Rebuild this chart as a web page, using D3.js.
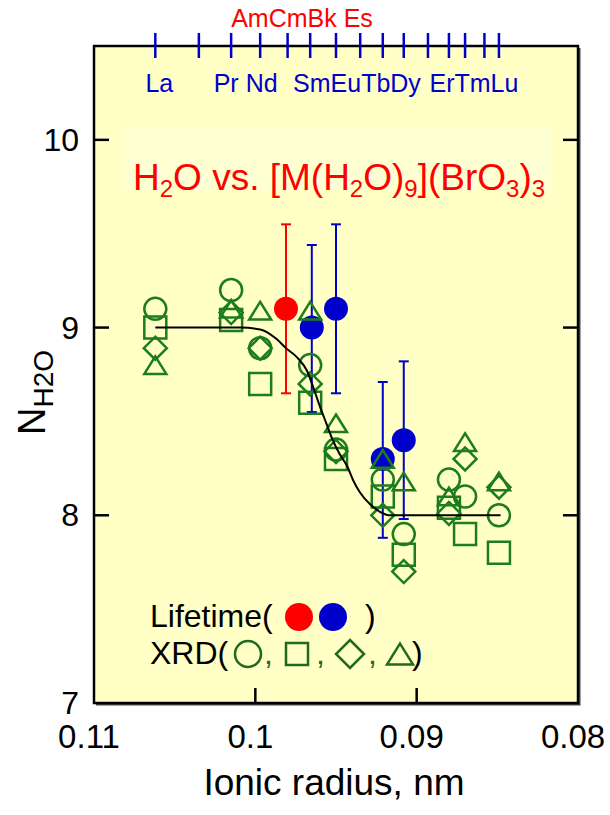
<!DOCTYPE html>
<html>
<head>
<meta charset="utf-8">
<script src="https://cdn.jsdelivr.net/npm/d3@7"></script>
<style>
  body { margin: 0; background: #fff; }
  svg text { font-family: "Liberation Sans", Arial, sans-serif; }
</style>
</head>
<body>
<div id="chart"></div>
<script>
// lanthanide tick marks on the top axis, ionic radius in nm
const elements = ["La", "Ce", "Pr", "Nd", "Pm", "Sm", "Eu", "Gd", "Tb", "Dy", "Ho", "Er", "Tm", "Yb", "Lu"];
const radii = [0.1062, 0.1035, 0.1015, 0.0997, 0.0980, 0.0966, 0.0950, 0.0935, 0.0921, 0.0908, 0.0893, 0.0880, 0.0870, 0.0858, 0.0849];
// labels printed under the ticks, grouped like in the original
const topLabelGroups = [["La"], ["Pr", "Nd"], ["Sm", "Eu", "Tb", "Dy"], ["Er", "Tm", "Lu"]];
const actinideLabel = "AmCmBk Es";

// XRD hydration numbers, one value per element
const xrdElements = ["La", "Pr", "Nd", "Sm", "Eu", "Tb", "Dy", "Er", "Tm", "Lu"];
const xrdCircle   = [9.10, 9.20, 8.89, 8.80, 8.35, 8.19, 7.90, 8.19, 8.10, 8.00];
const xrdSquare   = [9.00, 9.04, 8.70, 8.60, 8.30, 8.10, 7.79, 8.04, 7.90, 7.80];
const xrdDiamond  = [8.89, 9.08, 8.89, 8.70, 8.34, 8.00, 7.70, 8.01, 8.30, 8.15];
const xrdTriangle = [8.80, 9.10, 9.09, 9.09, 8.49, 8.30, 8.18, 8.10, 8.39, 8.18];

// lifetime measurements (Cm is the actinide point)
const lifeMetal  = ["Cm", "Sm", "Eu", "Tb", "Dy"];
const lifeRadius = [0.0981, 0.0965, 0.0950, 0.0921, 0.0908];
const lifeN      = [9.10, 9.00, 9.10, 8.30, 8.40];
const lifeLow    = [8.65, 8.55, 8.65, 7.88, 7.98];
const lifeHigh   = [9.55, 9.44, 9.55, 8.71, 8.82];

// guide curve
const fitRadius = [0.1062, 0.1009, 0.0997, 0.0987, 0.0981, 0.0974, 0.0968, 0.0964, 0.0960, 0.0956, 0.0952, 0.0948, 0.0943, 0.0939, 0.0935, 0.0929, 0.0923, 0.0916, 0.0848];
const fitN      = [9.00, 9.00, 8.99, 8.94, 8.89, 8.84, 8.77, 8.68, 8.58, 8.49, 8.40, 8.33, 8.26, 8.18, 8.12, 8.06, 8.02, 8.00, 8.00];

const xTicks = [0.11, 0.1, 0.09, 0.08];
const yTicks = [7, 8, 9, 10];

const WIDTH = 610, HEIGHT = 815;
const plot = { left: 94, right: 578, top: 46, bottom: 703 };

const RED = "#ff0000", BLUE = "#0000cc", GREEN = "#1d7d1d", LEGEND_GREEN = "#1f6a1f";

const x = d3.scaleLinear().domain([0.11, 0.08]).range([plot.left, plot.right]);
const y = d3.scaleLinear().domain([7, 10.5]).range([plot.bottom, plot.top]);
const radiusOf = name => radii[elements.indexOf(name)];

const svg = d3.select("#chart").append("svg")
  .attr("width", WIDTH)
  .attr("height", HEIGHT);

// plot background + lighter title box
svg.append("rect")
  .attr("x", plot.left).attr("y", plot.top)
  .attr("width", plot.right - plot.left).attr("height", plot.bottom - plot.top)
  .attr("fill", "#ffffc6");
svg.append("rect")
  .attr("x", 125).attr("y", 127).attr("width", 427).attr("height", 62)
  .attr("fill", "#ffffd4");

// marker paths
function shape(type, s) {
  if (type === "circle") return d3.arc()({ innerRadius: 0, outerRadius: s, startAngle: 0, endAngle: 2 * Math.PI });
  if (type === "square") return `M${-s},${-s}H${s}V${s}H${-s}Z`;
  if (type === "diamond") return `M0,${-s}L${s},0L0,${s}L${-s},0Z`;
  // triangle, centred on its bounding box
  const h = s * 0.8;
  return `M0,${-h}L${s},${h}L${-s},${h}Z`;
}

// lifetime error bars and filled circles
const life = svg.append("g");
lifeMetal.forEach((m, i) => {
  const col = m === "Cm" ? RED : BLUE;
  const cx = x(lifeRadius[i]);
  life.append("line")
    .attr("x1", cx).attr("x2", cx)
    .attr("y1", y(lifeLow[i])).attr("y2", y(lifeHigh[i]))
    .attr("stroke", col).attr("stroke-width", 2);
  [lifeLow[i], lifeHigh[i]].forEach(v => {
    life.append("line")
      .attr("x1", cx - 5).attr("x2", cx + 5)
      .attr("y1", y(v)).attr("y2", y(v))
      .attr("stroke", col).attr("stroke-width", 2);
  });
  life.append("circle")
    .attr("cx", cx).attr("cy", y(lifeN[i])).attr("r", 12)
    .attr("fill", col);
});

// XRD markers
const xrdSeries = [
  { type: "circle", values: xrdCircle, size: 11 },
  { type: "square", values: xrdSquare, size: 11 },
  { type: "diamond", values: xrdDiamond, size: 11.5 },
  { type: "triangle", values: xrdTriangle, size: 11 }
];
xrdSeries.forEach(s => {
  svg.append("g").selectAll("path")
    .data(s.values)
    .join("path")
    .attr("transform", (d, i) => `translate(${x(radiusOf(xrdElements[i]))},${y(d)})`)
    .attr("d", shape(s.type, s.size))
    .attr("fill", "none")
    .attr("stroke", GREEN)
    .attr("stroke-width", 2.5);
});

// guide curve
svg.append("path")
  .datum(fitRadius.map((r, i) => [r, fitN[i]]))
  .attr("d", d3.line().x(d => x(d[0])).y(d => y(d[1])).curve(d3.curveMonotoneX))
  .attr("fill", "none")
  .attr("stroke", "#000")
  .attr("stroke-width", 2);

// frame with a slight shadow on right/bottom
svg.append("path")
  .attr("d", `M${plot.right + 1.5},${plot.top + 2}V${plot.bottom + 1.5}H${plot.left + 2}`)
  .attr("fill", "none").attr("stroke", "#444").attr("stroke-width", 2);
svg.append("rect")
  .attr("x", plot.left).attr("y", plot.top)
  .attr("width", plot.right - plot.left).attr("height", plot.bottom - plot.top)
  .attr("fill", "none").attr("stroke", "#000").attr("stroke-width", 2.5);

// inner ticks on left/right/bottom
const TICK = 15;
yTicks.slice(1).forEach(v => {
  svg.append("line").attr("x1", plot.left).attr("x2", plot.left + TICK)
    .attr("y1", y(v)).attr("y2", y(v)).attr("stroke", "#000").attr("stroke-width", 2.5);
  svg.append("line").attr("x1", plot.right - TICK).attr("x2", plot.right)
    .attr("y1", y(v)).attr("y2", y(v)).attr("stroke", "#000").attr("stroke-width", 2.5);
});
xTicks.slice(1, -1).forEach(v => {
  svg.append("line").attr("x1", x(v)).attr("x2", x(v))
    .attr("y1", plot.bottom - TICK).attr("y2", plot.bottom)
    .attr("stroke", "#000").attr("stroke-width", 2.5);
});

// tick labels
svg.append("g").selectAll("text")
  .data(yTicks)
  .join("text")
  .attr("x", 79).attr("y", d => y(d) + 11)
  .attr("text-anchor", "end")
  .attr("font-size", 32)
  .text(d => d);
svg.append("g").selectAll("text")
  .data(xTicks)
  .join("text")
  .attr("x", d => x(d) - 5).attr("y", 748)
  .attr("text-anchor", "middle")
  .attr("font-size", 33)
  .text(d => d);

// axis titles
svg.append("text")
  .attr("x", (plot.left + plot.right) / 2 - 2).attr("y", 795)
  .attr("text-anchor", "middle")
  .attr("font-size", 37)
  .text("Ionic radius, nm");
const yTitle = svg.append("text")
  .attr("transform", "translate(45,435) rotate(-90)")
  .attr("font-size", 38);
yTitle.append("tspan").text("N");
yTitle.append("tspan").attr("font-size", 28).attr("dy", 8).text("H2O");

// top lanthanide axis
svg.append("g").selectAll("line")
  .data(radii)
  .join("line")
  .attr("x1", d => x(d)).attr("x2", d => x(d))
  .attr("y1", 33).attr("y2", 58)
  .attr("stroke", BLUE).attr("stroke-width", 2.5);
svg.append("g").selectAll("text")
  .data(topLabelGroups)
  .join("text")
  .attr("x", g => (x(radiusOf(g[0])) + x(radiusOf(g[g.length - 1]))) / 2 + (g.length === 1 ? 4 : 0))
  .attr("y", 92)
  .attr("text-anchor", "middle")
  .attr("font-size", 25)
  .attr("fill", BLUE)
  .text(g => g.join(g.length === 2 ? " " : ""));
svg.append("text")
  .attr("x", 302).attr("y", 27)
  .attr("text-anchor", "middle")
  .attr("font-size", 25)
  .attr("fill", RED)
  .text(actinideLabel);

// title with subscripts
const title = svg.append("text")
  .attr("x", 133).attr("y", 190)
  .attr("font-size", 37)
  .attr("fill", RED);
[["H", 0], ["2", 1], ["O vs. [M(H", 0], ["2", 1], ["O)", 0], ["9", 1], ["](BrO", 0], ["3", 1], [")", 0], ["3", 1]]
  .forEach(([t, sub], i, arr) => {
    const prevSub = i > 0 ? arr[i - 1][1] : 0;
    title.append("tspan")
      .attr("font-size", sub ? 24 : 37)
      .attr("dy", (sub - prevSub) * 7)
      .text(t);
  });

// legend
svg.append("text").attr("x", 150).attr("y", 627).attr("font-size", 32).text("Lifetime(");
svg.append("circle").attr("cx", 299).attr("cy", 617).attr("r", 14).attr("fill", RED);
svg.append("circle").attr("cx", 333).attr("cy", 617).attr("r", 14).attr("fill", BLUE);
svg.append("text").attr("x", 365).attr("y", 627).attr("font-size", 32).text(")");

svg.append("text").attr("x", 150).attr("y", 664).attr("font-size", 32).text("XRD(");
[["circle", 248, 13], ["square", 297, 11], ["diamond", 350, 14], ["triangle", 400, 13]].forEach(([t, cx, s]) => {
  svg.append("path")
    .attr("transform", `translate(${cx},654)`)
    .attr("d", shape(t, s))
    .attr("fill", "none").attr("stroke", LEGEND_GREEN).attr("stroke-width", 2.5);
});
[264, 316, 368].forEach(cx => {
  svg.append("text").attr("x", cx).attr("y", 664).attr("font-size", 32).attr("fill", LEGEND_GREEN).text(",");
});
svg.append("text").attr("x", 412).attr("y", 664).attr("font-size", 32).text(")");
</script>
</body>
</html>
